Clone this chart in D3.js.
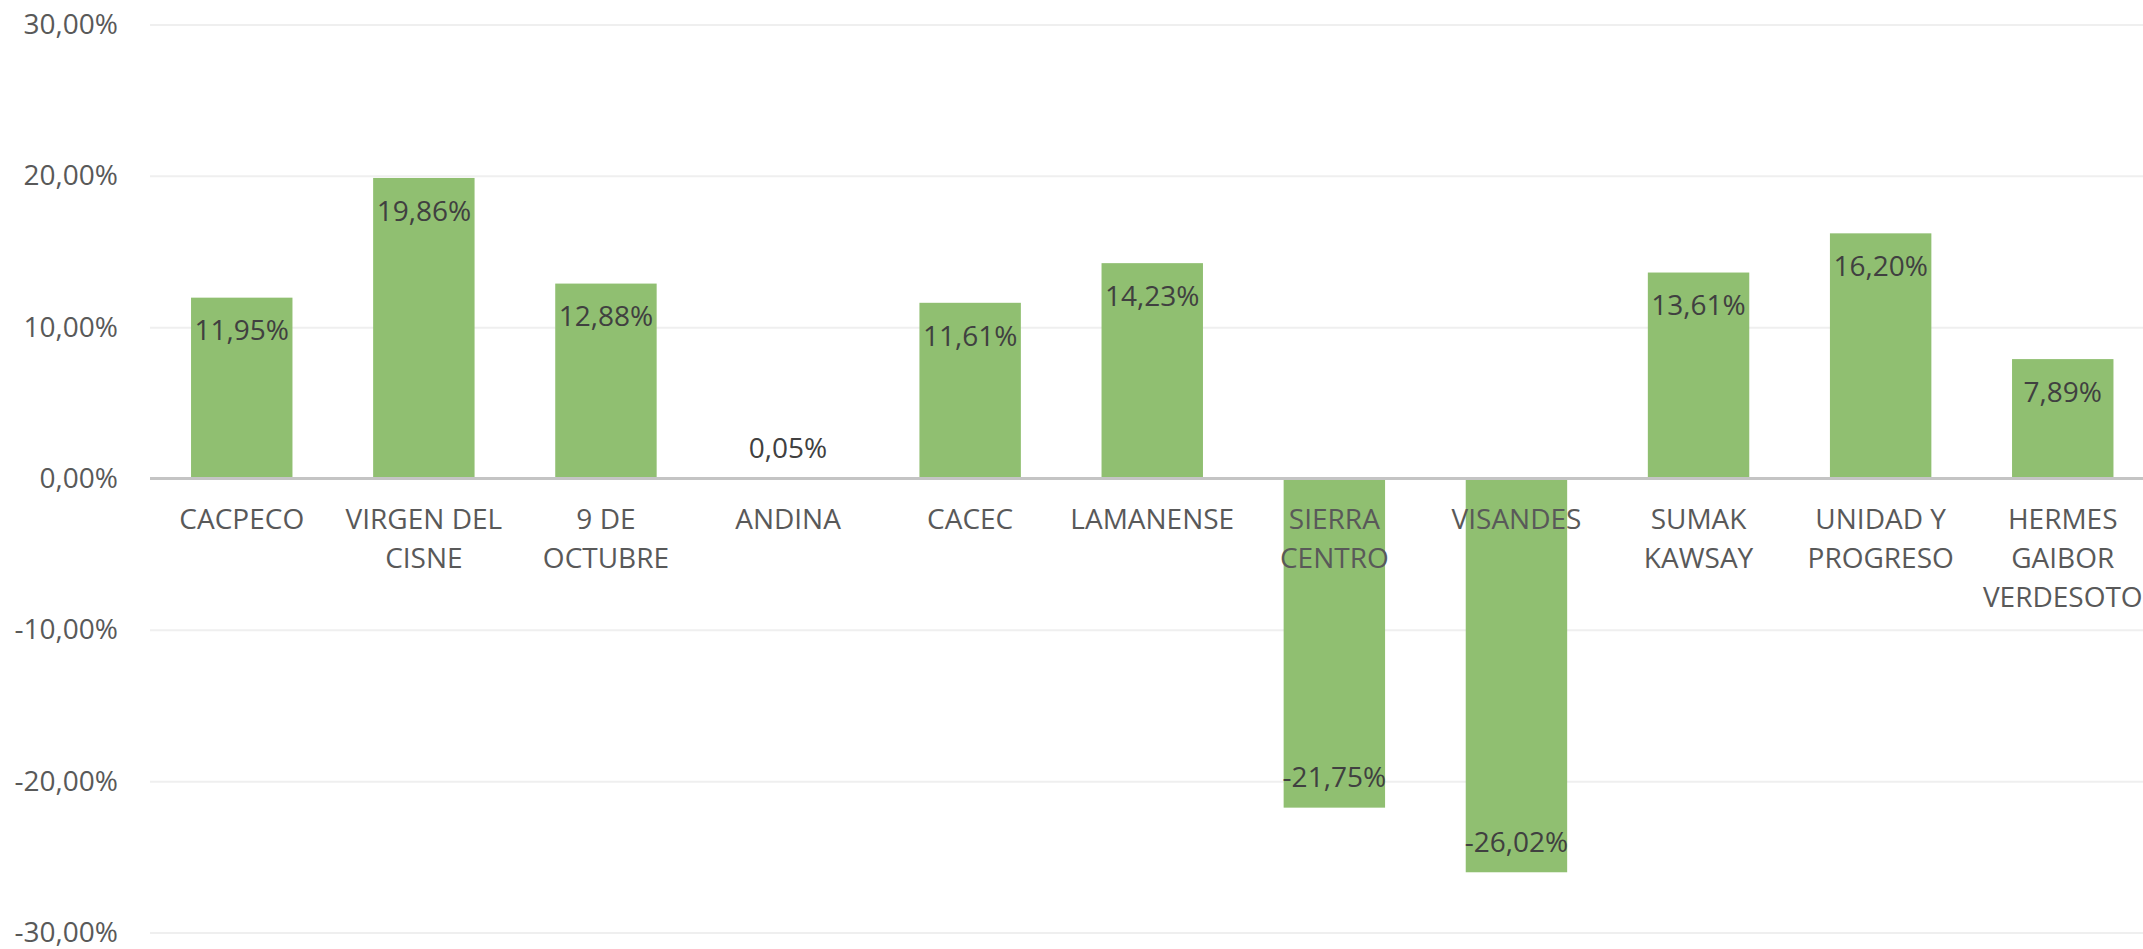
<!DOCTYPE html>
<html>
<head>
  <meta charset="utf-8">
  <script src="https://d3js.org/d3.v7.min.js"></script>
  <style>
  html, body {
    margin: 0px;
    background: #fff;
    overflow: hidden;
  }
  svg text {
    font-family: "Open Sans", "Noto Sans", sans-serif;
  }
  </style>
</head>
<body>
  <svg id="chart"></svg>
  <script>

  // categories, each split into the lines shown under the axis
  var categories = ['CACPECO', 'VIRGEN DEL CISNE', '9 DE OCTUBRE', 'ANDINA', 'CACEC', 'LAMANENSE',
                    'SIERRA CENTRO', 'VISANDES', 'SUMAK KAWSAY', 'UNIDAD Y PROGRESO', 'HERMES GAIBOR VERDESOTO'];
  var categoryLines = [['CACPECO'], ['VIRGEN DEL', 'CISNE'], ['9 DE', 'OCTUBRE'], ['ANDINA'], ['CACEC'], ['LAMANENSE'],
                       ['SIERRA', 'CENTRO'], ['VISANDES'], ['SUMAK', 'KAWSAY'], ['UNIDAD Y', 'PROGRESO'], ['HERMES', 'GAIBOR', 'VERDESOTO']];
  // growth in percent
  var values = [11.95, 19.86, 12.88, 0.05, 11.61, 14.23, -21.75, -26.02, 13.61, 16.20, 7.89];
  var yTicks = [-30, -20, -10, 0, 10, 20, 30];

  var width = 2143,
      height = 949;

  var svg = d3.select('#chart')
    .attr('width', width)
    .attr('height', height);

  var locale = d3.formatLocale({decimal: ',', thousands: '.', grouping: [3], currency: ['', ''], minus: '-'});
  var fmt = locale.format('.2f');
  function pct(v) { return fmt(v) + '%'; }

  var x = d3.scaleBand()
    .domain(categories)
    .range([150.7, 2153.8])
    .paddingInner(0.443)
    .paddingOuter(0.2215);

  var y = d3.scaleLinear()
    .domain([-30, 30])
    .range([932.5, 24.5]);

  // gridlines + y labels
  var yAxis = svg.append('g')
    .attr('transform', 'translate(150,0)')
    .call(d3.axisLeft(y).tickValues(yTicks).tickSize(-(width - 150)).tickPadding(32).tickFormat(pct));
  yAxis.select('.domain').remove();
  yAxis.selectAll('line').attr('stroke', '#efefef').attr('stroke-width', 2);
  yAxis.selectAll('text')
    .attr('fill', '#595959')
    .style('font-size', '28px');

  // bars
  svg.append('g').selectAll('rect')
    .data(values)
    .enter().append('rect')
      .attr('x', function(d, i) { return x(categories[i]); })
      .attr('y', function(d) { return y(Math.max(0, d)); })
      .attr('width', x.bandwidth())
      .attr('height', function(d) { return Math.abs(y(d) - y(0)); })
      .attr('fill', '#90bf71');

  // zero line
  svg.append('line')
    .attr('x1', 150).attr('x2', width)
    .attr('y1', y(0)).attr('y2', y(0))
    .attr('stroke', '#c4c4c4')
    .attr('stroke-width', 3);

  // category labels
  var xAxis = svg.append('g')
    .attr('transform', 'translate(0,' + y(0) + ')')
    .call(d3.axisBottom(x).tickSize(0).tickFormat(''));
  xAxis.select('.domain').remove();
  xAxis.selectAll('.tick text').remove();
  xAxis.selectAll('.tick').each(function(d, i) {
    var t = d3.select(this).append('text')
      .attr('text-anchor', 'middle')
      .attr('fill', '#595959')
      .style('font-size', '28px');
    categoryLines[i].forEach(function(line, j) {
      t.append('tspan')
        .attr('x', 0)
        .attr('y', 41 + j * 39)
        .attr('dy', '0.35em')
        .text(line);
    });
  });

  // data labels (inside end, outside when the bar is too short)
  svg.append('g').selectAll('text')
    .data(values)
    .enter().append('text')
      .attr('x', function(d, i) { return x(categories[i]) + x.bandwidth() / 2; })
      .attr('y', function(d) {
        var h = Math.abs(y(d) - y(0));
        if (h < 60) return y(0) - 30;
        return d >= 0 ? y(d) + 33 : y(d) - 30;
      })
      .attr('dy', '0.35em')
      .attr('text-anchor', 'middle')
      .attr('fill', '#404040')
      .style('font-size', '28px')
      .text(pct);

  </script>
</body>
</html>
